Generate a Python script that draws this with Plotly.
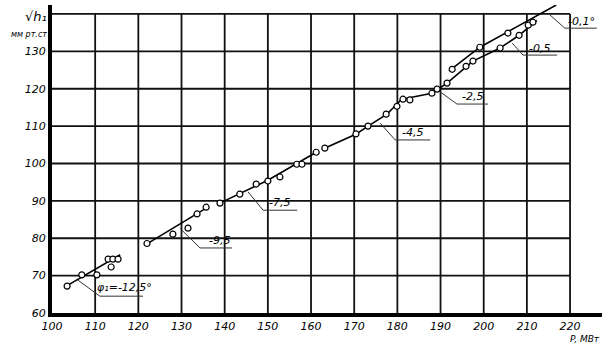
import plotly.graph_objects as go

# ---- data ----
x_ticks = [100, 110, 120, 130, 140, 150, 160, 170, 180, 190, 200, 210, 220]
y_ticks = [60, 70, 80, 90, 100, 110, 120, 130]
y_grid = [70, 80, 90, 100, 110, 120, 130, 140]

# measured points P (MW), sqrt(h)
pts_x = [103.5, 106.9, 110.4, 113.0, 114.1, 115.3, 113.7,
         122.0, 128.0, 131.5, 133.6, 135.7,
         138.9, 143.5, 147.3, 150.0, 152.8, 156.7, 157.9, 161.2,
         163.2, 170.4, 173.2, 177.4, 179.9, 181.3, 182.9,
         188.0, 189.2, 191.5, 197.5, 203.8, 208.2,
         192.7, 195.9, 199.1, 205.6, 210.3, 211.4]
pts_y = [67.2, 70.2, 70.2, 74.4, 74.4, 74.4, 72.3,
         78.6, 81.1, 82.7, 86.5, 88.3,
         89.4, 91.8, 94.5, 95.3, 96.4, 99.8, 99.8, 103.0,
         104.1, 107.9, 110.0, 113.2, 115.3, 117.2, 117.0,
         118.8, 119.9, 121.5, 127.4, 130.9, 134.3,
         125.2, 126.0, 131.1, 134.9, 137.0, 137.8]

# fitted segments
seg_x = [
    [103.0, 115.8],
    [122.0, 136.2],
    [138.5, 150.0, 161.5],
    [163.0, 170.5, 173.2, 177.6, 181.0],
    [181.0, 188.0, 191.5, 197.5, 203.8, 208.2, 212.3],
    [192.0, 199.1, 216.8],
]
seg_y = [
    [67.0, 75.6],
    [78.5, 88.4],
    [89.2, 95.5, 103.2],
    [104.0, 107.9, 110.0, 113.2, 117.2],
    [117.2, 118.8, 121.5, 127.4, 130.9, 134.3, 138.3],
    [124.8, 131.1, 142.4],
]

# segment labels (angle phi) with leader lines: start, knee, underline end
lab_text = ["φ₁=-12,5°", "-9,5", "-7,5", "-4,5", "-2,5", "-0,5", "-0,1°"]
lab_x = [116.9, 138.9, 152.6, 183.4, 197.3, 213.0, 222.6]
lab_y = [66.7, 79.3, 89.6, 108.3, 118.0, 130.8, 138.0]
lead_x = [[106.0, 111.1, 121.1], [129.6, 134.3, 141.7], [145.4, 148.9, 156.8],
          [176.0, 179.5, 187.6], [189.4, 193.8, 201.0], [206.6, 209.1, 217.0],
          [214.9, 218.8, 226.2]]
lead_y = [[68.8, 64.5, 64.5], [82.7, 77.4, 77.4], [92.4, 87.5, 87.5],
          [110.8, 106.3, 106.3], [119.6, 115.9, 115.9], [132.2, 129.0, 129.0],
          [140.2, 136.2, 136.2]]

X_MAX = 227.4
Y_MAX = 142.4
FONT = "DejaVu Sans"

fig = go.Figure()

# leader lines
for lx, ly in zip(lead_x, lead_y):
    fig.add_trace(go.Scatter(x=lx, y=ly, mode="lines",
                             line=dict(color="#333", width=1),
                             hoverinfo="skip", showlegend=False))

# fitted lines
for sx, sy in zip(seg_x, seg_y):
    fig.add_trace(go.Scatter(x=sx, y=sy, mode="lines",
                             line=dict(color="black", width=1.6),
                             hoverinfo="skip", showlegend=False))

# points
fig.add_trace(go.Scatter(x=pts_x, y=pts_y, mode="markers",
                         marker=dict(symbol="circle", size=6, color="white",
                                     line=dict(color="black", width=1.2)),
                         showlegend=False))

# grid (stops at 220 / 140 as in the drawing)
shapes = []
for xv in x_ticks[1:]:
    shapes.append(dict(type="line", xref="x", yref="y", x0=xv, x1=xv,
                       y0=60, y1=140, line=dict(color="#111", width=1.8), layer="below"))
for yv in y_grid:
    shapes.append(dict(type="line", xref="x", yref="y", x0=100, x1=220,
                       y0=yv, y1=yv, line=dict(color="#111", width=1.8), layer="below"))
fig.update_layout(shapes=shapes)

# labels
for t, x, y in zip(lab_text, lab_x, lab_y):
    fig.add_annotation(x=x, y=y, xref="x", yref="y", text=t, showarrow=False,
                       font=dict(family=FONT, size=11, color="black", style="italic"))

fig.add_annotation(xref="paper", yref="paper", x=-0.005, y=0.995, xanchor="right",
                   yanchor="top", text="√h₁", showarrow=False,
                   font=dict(family=FONT, size=13, color="black", style="italic"))
fig.add_annotation(xref="paper", yref="paper", x=-0.005, y=0.925, xanchor="right",
                   yanchor="top", text="мм рт.ст", showarrow=False,
                   font=dict(family=FONT, size=8, color="black", style="italic"))
fig.add_annotation(xref="paper", yref="paper", x=1.0, y=-0.062, xanchor="right",
                   yanchor="top", text="P, МВт", showarrow=False,
                   font=dict(family=FONT, size=9, color="black", style="italic"))

fig.update_xaxes(range=[100, X_MAX], tickvals=x_ticks, ticktext=[str(v) for v in x_ticks],
                 showgrid=False, zeroline=False, showline=True, linewidth=4,
                 linecolor="black", ticks="", tickfont=dict(family=FONT, size=11,
                 color="black", style="italic"))
fig.update_yaxes(range=[60, Y_MAX], tickvals=y_ticks, ticktext=[str(v) for v in y_ticks],
                 showgrid=False, zeroline=False, showline=True, linewidth=4,
                 linecolor="black", ticks="", tickfont=dict(family=FONT, size=11,
                 color="black", style="italic"))

fig.update_layout(width=605, height=343, margin=dict(l=52, r=3, t=5, b=30),
                  plot_bgcolor="white", paper_bgcolor="white")

fig.write_html("out.html")
